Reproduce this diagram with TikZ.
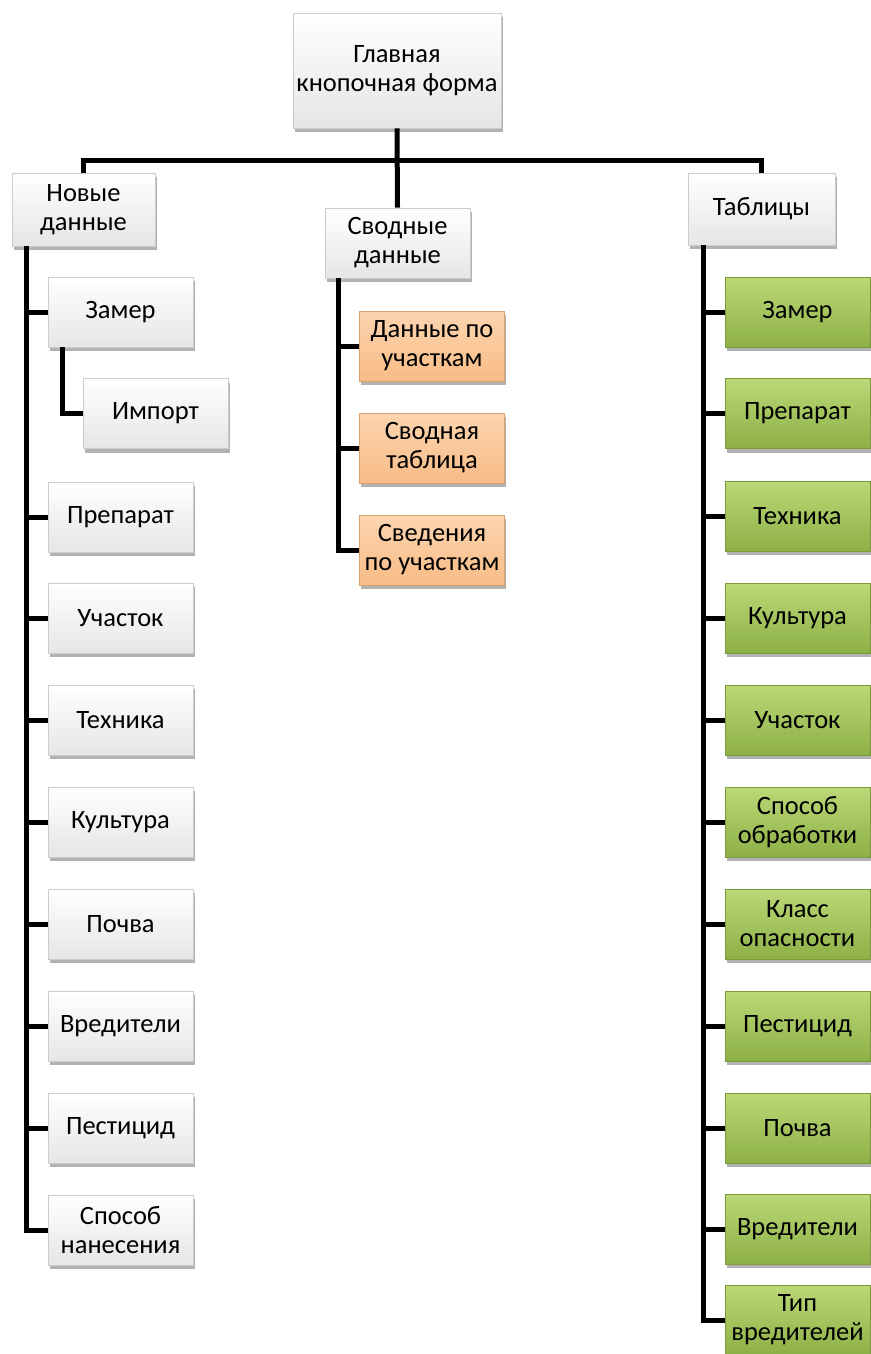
\documentclass[tikz,border=0pt]{standalone}
\usepackage{fontspec}
\setmainfont{Carlito}
\usetikzlibrary{shadows}
\definecolor{greentop}{HTML}{BBD977}
\definecolor{greenbot}{HTML}{8DB046}
\definecolor{greenline}{HTML}{7A9A3C}
\definecolor{orangetop}{HTML}{FCD5B0}
\definecolor{orangebot}{HTML}{F8BC86}
\definecolor{orangeline}{HTML}{D9A070}

\begin{document}
\begin{tikzpicture}[x=1pt,y=-1pt]
\tikzset{box/.style={rectangle,draw=gray!40,line width=0.8pt,top color=white,bottom color=gray!20,
    minimum width=145pt,minimum height=70pt,align=center,inner sep=2pt,
    font=\fontsize{26.5}{29}\selectfont,
    drop shadow={shadow xshift=1.5pt,shadow yshift=-4pt,opacity=0.3,fill=black}},
  greenbox/.style={box,draw=greenline,top color=greentop,bottom color=greenbot},
  orangebox/.style={box,draw=orangeline,top color=orangetop,bottom color=orangebot},
  link/.style={line width=5pt}}
\useasboundingbox (0,0) rectangle (870,1354);
\node[box,minimum width=208pt,minimum height=115pt] (main) at (397,70.5) {Главная\\кнопочная форма};
\node[box,minimum width=143pt,minimum height=73pt] (nd) at (83.5,209.5) {Новые\\данные};
\node[box] (sd) at (397.5,243) {Сводные\\данные};
\node[box,minimum width=147pt,minimum height=72pt] (tb) at (761.5,209) {Таблицы};
\node[box] (zamer) at (120.5,312) {Замер};
\node[box] (import) at (155.5,413.5) {Импорт};
\node[box] (preparat) at (120.5,517) {Препарат};
\node[box] (uchastok) at (120.5,618) {Участок};
\node[box] (tehnika) at (120.5,720) {Техника};
\node[box] (kultura) at (120.5,822) {Культура};
\node[box] (pochva) at (120.5,924) {Почва};
\node[box] (vrediteli) at (120.5,1026) {Вредители};
\node[box] (pesticid) at (120.5,1128) {Пестицид};
\node[box] (sposob) at (120.5,1230) {Способ\\нанесения};
\node[orangebox] (sdannye) at (432,346) {Данные по\\участкам};
\node[orangebox] (ssvod) at (432,448) {Сводная\\таблица};
\node[orangebox] (ssved) at (432,550) {Сведения\\по участкам};
\node[greenbox] (tzamer) at (797.5,312) {Замер};
\node[greenbox] (tpreparat) at (797.5,413.5) {Препарат};
\node[greenbox] (ttehnika) at (797.5,516) {Техника};
\node[greenbox] (tkultura) at (797.5,618) {Культура};
\node[greenbox] (tuchastok) at (797.5,720) {Участок};
\node[greenbox] (tsposob) at (797.5,822) {Способ\\обработки};
\node[greenbox] (tklass) at (797.5,924) {Класс\\опасности};
\node[greenbox] (tpesticid) at (797.5,1026) {Пестицид};
\node[greenbox] (tpochva) at (797.5,1128) {Почва};
\node[greenbox] (tvrediteli) at (797.5,1229) {Вредители};
\node[greenbox] (ttip) at (797.5,1320) {Тип\\вредителей};
\coordinate (bus) at (0,160);
\coordinate (ltrunk) at (26,0);
\coordinate (ztrunk) at (62,0);
\coordinate (strunk) at (338,0);
\coordinate (ttrunk) at (703,0);
\draw[link] (main.south) -- (sd.north);
\draw[link] (nd.north) -- (nd.north |- bus) -- (tb.north |- bus) -- (tb.north);
\draw[link] (ltrunk |- nd.south) |- (sposob.west);
\foreach \n in {zamer,preparat,uchastok,tehnika,kultura,pochva,vrediteli,pesticid}
  \draw[link] (ltrunk |- \n.west) -- (\n.west);
\draw[link] (ztrunk |- zamer.south) |- (import.west);
\draw[link] (strunk |- sd.south) |- (ssved.west);
\foreach \n in {sdannye,ssvod}
  \draw[link] (strunk |- \n.west) -- (\n.west);
\draw[link] (ttrunk |- tb.south) |- (ttip.west);
\foreach \n in {tzamer,tpreparat,ttehnika,tkultura,tuchastok,tsposob,tklass,tpesticid,tpochva,tvrediteli}
  \draw[link] (ttrunk |- \n.west) -- (\n.west);
\end{tikzpicture}
\end{document}
